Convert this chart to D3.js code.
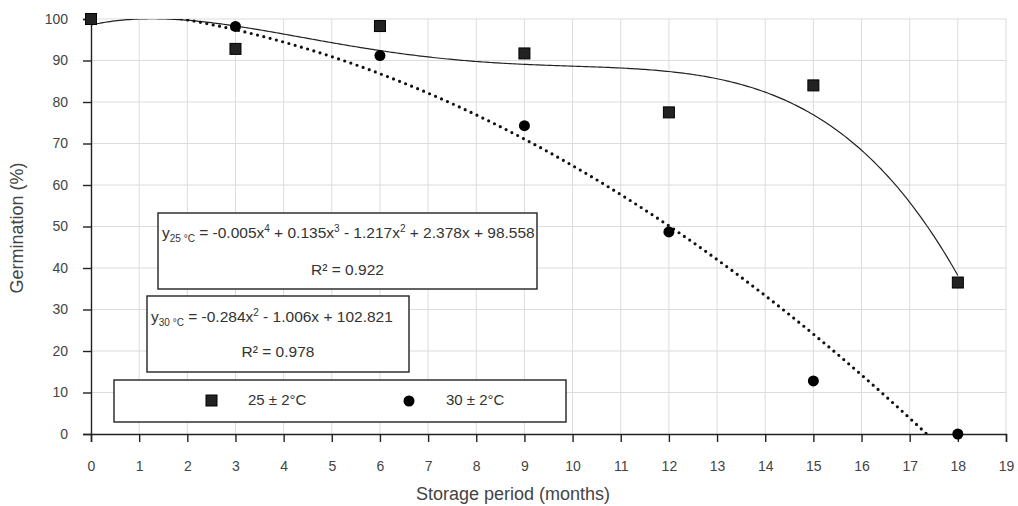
<!DOCTYPE html>
<html>
<head>
<meta charset="utf-8">
<script src="https://cdn.jsdelivr.net/npm/d3@7"></script>
<style>
  body { margin: 0; background: #fff; }
  text { font-family: "Liberation Sans", Arial, sans-serif; }
</style>
</head>
<body>
<svg id="chart" width="1018" height="506"></svg>
<script>
// values
const months = [0, 3, 6, 9, 12, 15, 18];
const germ25 = [100, 92.8, 98.3, 91.7, 77.5, 84.0, 36.5];
const germ30 = [100, 98.2, 91.2, 74.3, 48.7, 12.8, 0];
const xTicks = d3.range(0, 20);
const yTicks = d3.range(0, 101, 10);
const eq25 = ["-0.005x", "4", " + 0.135x", "3", " - 1.217x", "2", " + 2.378x + 98.558"];
const eq30 = ["-0.284x", "2", " - 1.006x + 102.821"];
const r2 = ["R² = 0.922", "R² = 0.978"];
const legendLabels = ["25 ± 2°C", "30 ± 2°C"];

const svg = d3.select("#chart");
const margin = { left: 91, right: 12, top: 19, bottom: 72 };
const W = 1018, H = 506;

const x = d3.scaleLinear().domain([0, 19]).range([margin.left, W - margin.right]);
const y = d3.scaleLinear().domain([0, 100]).range([H - margin.bottom, margin.top]);

// least squares polynomial, like the spreadsheet trendline
function polyFit(xs, ys, order) {
    const n = order + 1;
    const A = [], b = [];
    for (let i = 0; i < n; i++) {
        A.push(new Array(n).fill(0));
        b.push(0);
    }
    xs.forEach((xv, k) => {
        for (let i = 0; i < n; i++) {
            for (let j = 0; j < n; j++) A[i][j] += Math.pow(xv, i + j);
            b[i] += ys[k] * Math.pow(xv, i);
        }
    });
    for (let c = 0; c < n; c++) {
        let p = c;
        for (let r = c + 1; r < n; r++) if (Math.abs(A[r][c]) > Math.abs(A[p][c])) p = r;
        [A[c], A[p]] = [A[p], A[c]];
        [b[c], b[p]] = [b[p], b[c]];
        for (let r = c + 1; r < n; r++) {
            const f = A[r][c] / A[c][c];
            for (let j = c; j < n; j++) A[r][j] -= f * A[c][j];
            b[r] -= f * b[c];
        }
    }
    const coef = new Array(n).fill(0);
    for (let i = n - 1; i >= 0; i--) {
        let s = b[i];
        for (let j = i + 1; j < n; j++) s -= A[i][j] * coef[j];
        coef[i] = s / A[i][i];
    }
    return xv => coef.reduce((acc, c, i) => acc + c * Math.pow(xv, i), 0);
}

const fit25 = polyFit(months, germ25, 4);
const fit30 = polyFit(months, germ30, 2);

// grid
const grid = svg.append("g").attr("stroke", "#dcdcdc").attr("stroke-width", 1);
grid.selectAll(".gx").data(xTicks.slice(1)).join("line")
    .attr("x1", d => x(d)).attr("x2", d => x(d))
    .attr("y1", y(0)).attr("y2", y(100));
grid.selectAll(".gy").data(yTicks.slice(1)).join("line")
    .attr("x1", x(0)).attr("x2", x(19))
    .attr("y1", d => y(d)).attr("y2", d => y(d));

// axes
const xAxis = svg.append("g")
    .attr("transform", `translate(0,${y(0)})`)
    .call(d3.axisBottom(x).tickValues(xTicks).tickSize(8).tickPadding(19).tickFormat(d3.format("d")));
const yAxis = svg.append("g")
    .attr("transform", `translate(${x(0)},0)`)
    .call(d3.axisLeft(y).tickValues(yTicks).tickSize(8).tickPadding(15).tickFormat(d3.format("d")));
[xAxis, yAxis].forEach(g => {
    g.select(".domain").attr("stroke", "#222").attr("stroke-width", 1.4);
    g.selectAll(".tick line").attr("stroke", "#222").attr("stroke-width", 1.4);
    g.selectAll(".tick text").attr("fill", "#444").style("font-size", "14px")
        .style("font-family", "'Liberation Sans', Arial, sans-serif");
});

svg.append("text")
    .attr("x", 513).attr("y", 500)
    .attr("text-anchor", "middle").attr("fill", "#444").style("font-size", "18px")
    .text("Storage period (months)");
svg.append("text")
    .attr("transform", "translate(23,228) rotate(-90)")
    .attr("text-anchor", "middle").attr("fill", "#444").style("font-size", "18px")
    .text("Germination (%)");

// trendlines, clipped to the plot area
svg.append("clipPath").attr("id", "plot")
    .append("rect").attr("x", x(0)).attr("y", y(100)).attr("width", x(19) - x(0)).attr("height", y(0) - y(100));

const xs = d3.range(0, 18.0001, 0.05);
const line = d3.line().x(d => x(d[0])).y(d => y(d[1]));

svg.append("path")
    .datum(xs.map(v => [v, fit25(v)]))
    .attr("clip-path", "url(#plot)")
    .attr("fill", "none").attr("stroke", "#222").attr("stroke-width", 1.2)
    .attr("d", line);

svg.append("path")
    .datum(xs.map(v => [v, fit30(v)]))
    .attr("clip-path", "url(#plot)")
    .attr("fill", "none").attr("stroke", "#111").attr("stroke-width", 3.2)
    .attr("stroke-linecap", "round").attr("stroke-dasharray", "0 6.5")
    .attr("d", line);

// points
svg.append("g").selectAll("circle").data(months).join("circle")
    .attr("cx", d => x(d)).attr("cy", (d, i) => y(germ30[i])).attr("r", 5.5)
    .attr("fill", "#000");
svg.append("g").selectAll("rect").data(months).join("rect")
    .attr("x", d => x(d) - 5.5).attr("y", (d, i) => y(germ25[i]) - 5.5)
    .attr("width", 11).attr("height", 11)
    .attr("fill", "#222").attr("stroke", "#000").attr("stroke-width", 1);

// equation boxes
function eqBox(left, top, w, h, label, parts, r2text, lineY, r2Y, tx) {
    const g = svg.append("g");
    g.append("rect").attr("x", left).attr("y", top).attr("width", w).attr("height", h)
        .attr("fill", "#fff").attr("stroke", "#222").attr("stroke-width", 1.4);
    const t = g.append("text").attr("x", tx).attr("y", lineY).attr("fill", "#333").style("font-size", "15.5px");
    t.append("tspan").text("y");
    t.append("tspan").attr("dy", 4).style("font-size", "10px").text(label);
    t.append("tspan").attr("dy", -4).text(" = ");
    parts.forEach((p, i) => {
        if (i % 2 === 1) t.append("tspan").attr("dy", -6).style("font-size", "10px").text(p);
        else t.append("tspan").attr("dy", i === 0 ? 0 : 6).text(p);
    });
    g.append("text").attr("x", left + w / 2).attr("y", r2Y).attr("text-anchor", "middle")
        .attr("fill", "#333").style("font-size", "15.5px").text(r2text);
}
eqBox(158, 213, 379, 76, "25 °C", eq25, r2[0], 238, 275, 162);
eqBox(147, 296, 262, 76, "30 °C", eq30, r2[1], 322, 357, 151);

// legend
const lg = svg.append("g");
lg.append("rect").attr("x", 114).attr("y", 380).attr("width", 452).attr("height", 42)
    .attr("fill", "#fff").attr("stroke", "#222").attr("stroke-width", 1.4);
lg.append("rect").attr("x", 206).attr("y", 395).attr("width", 11).attr("height", 11)
    .attr("fill", "#222").attr("stroke", "#000");
lg.append("circle").attr("cx", 409).attr("cy", 401).attr("r", 5.5).attr("fill", "#000");
lg.selectAll(".lt").data(legendLabels).join("text")
    .attr("x", (d, i) => [248, 446][i]).attr("y", 405)
    .attr("fill", "#333").style("font-size", "15px").text(d => d);
</script>
</body>
</html>
